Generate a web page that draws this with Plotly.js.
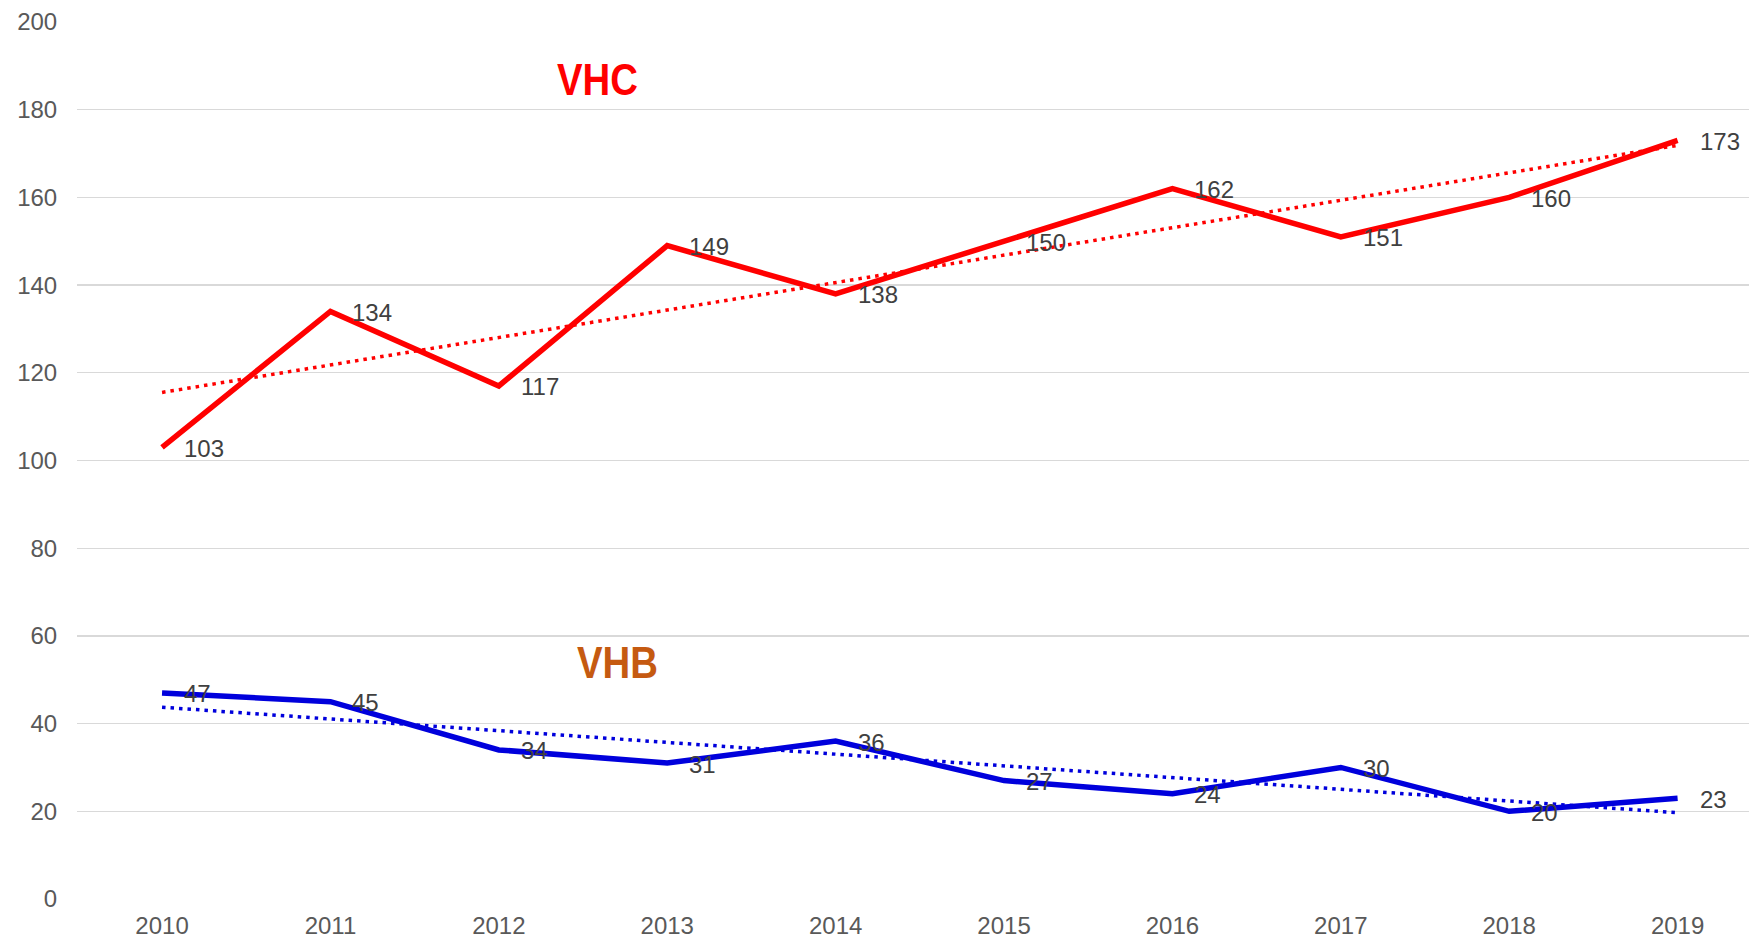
<!DOCTYPE html>
<html>
<head>
<meta charset="utf-8">
<script src="https://cdn.plot.ly/plotly-3.0.1.min.js"></script>
<style>html,body{margin:0;padding:0;background:#fff;}#chart{width:1749px;height:938px;}</style>
</head>
<body>
<div id="chart"></div>
<script>
const years = ['2010','2011','2012','2013','2014','2015','2016','2017','2018','2019'];
const vhc = [103, 134, 117, 149, 138, 150, 162, 151, 160, 173];
const vhb = [47, 45, 34, 31, 36, 27, 24, 30, 20, 23];
const yTicks = [0, 20, 40, 60, 80, 100, 120, 140, 160, 180, 200];

const RED = '#FF0000';
const BLUE = '#0000DC';
const xIdx = years.map((_, i) => i);

// Linear (least-squares) trend line, as the original chart's trendline
function trend(vals) {
  const n = vals.length;
  const mx = xIdx.reduce((a, b) => a + b, 0) / n;
  const my = vals.reduce((a, b) => a + b, 0) / n;
  let sxy = 0, sxx = 0;
  for (let i = 0; i < n; i++) { sxy += (xIdx[i] - mx) * (vals[i] - my); sxx += (xIdx[i] - mx) ** 2; }
  const b = sxy / sxx, a = my - b * mx;
  return xIdx.map(x => a + b * x);
}

const traces = [
  {x: xIdx, y: trend(vhc), type: 'scatter', mode: 'lines', line: {color: RED, width: 3.5, dash: '3.5px,5px'}, hoverinfo: 'skip'},
  {x: xIdx, y: trend(vhb), type: 'scatter', mode: 'lines', line: {color: BLUE, width: 3.5, dash: '3.5px,5px'}, hoverinfo: 'skip'},
  {x: xIdx, y: vhc, type: 'scatter', mode: 'lines', name: 'VHC', line: {color: RED, width: 5.5}},
  {x: xIdx, y: vhb, type: 'scatter', mode: 'lines', name: 'VHB', line: {color: BLUE, width: 5.5}}
];

const labelFont = {family: 'Liberation Sans, Arial, sans-serif', size: 24, color: '#404040'};
const annotations = [];
[vhc, vhb].forEach(series => {
  series.forEach((v, i) => {
    annotations.push({x: xIdx[i], y: v, xref: 'x', yref: 'y', text: String(v), showarrow: false,
      xanchor: 'left', yanchor: 'middle', xshift: 20, yshift: -1, font: labelFont});
  });
});
annotations.push({x: 2.585, y: 186.8, xref: 'x', yref: 'y', text: '<b>VHC</b>', showarrow: false,
  xanchor: 'center', yanchor: 'middle',
  font: {family: 'Liberation Sans, Arial, sans-serif', size: 45, color: RED}});
annotations.push({x: 2.704, y: 53.9, xref: 'x', yref: 'y', text: '<b>VHB</b>', showarrow: false,
  xanchor: 'center', yanchor: 'middle',
  font: {family: 'Liberation Sans, Arial, sans-serif', size: 44, color: '#C55A11'}});

const layout = {
  width: 1749, height: 938,
  margin: {l: 77, r: 0, t: 22, b: 39, pad: 0},
  paper_bgcolor: '#FFFFFF', plot_bgcolor: '#FFFFFF',
  showlegend: false,
  hovermode: false,
  xaxis: {
    range: [-0.505, 9.424],
    tickvals: xIdx, ticktext: years,
    showgrid: false, zeroline: false, showline: false,
    ticks: 'outside', ticklen: 5, tickcolor: 'rgba(0,0,0,0)',
    tickfont: {family: 'Liberation Sans, Arial, sans-serif', size: 24, color: '#595959'},
    fixedrange: true
  },
  yaxis: {
    range: [0, 200], tickvals: yTicks, ticktext: yTicks.map(String),
    showgrid: true, gridcolor: '#D9D9D9', gridwidth: 1.3,
    zeroline: false, showline: false,
    ticks: 'outside', ticklen: 14, tickcolor: 'rgba(0,0,0,0)',
    tickfont: {family: 'Liberation Sans, Arial, sans-serif', size: 24, color: '#595959'},
    fixedrange: true
  },
  annotations: annotations
};

Plotly.newPlot('chart', traces, layout, {displayModeBar: false, staticPlot: true}).then(gd => {
  // Condense the two big series titles horizontally, like the narrow font of the original
  const texts = gd.querySelectorAll('.annotation-text');
  texts.forEach(t => {
    const s = t.textContent;
    if (s === 'VHC' || s === 'VHB') {
      const bb = t.getBBox();
      const cx = bb.x + bb.width / 2;
      const sx = 81 / bb.width;
      t.setAttribute('transform', 'translate(' + cx + ',0) scale(' + sx + ',1) translate(' + (-cx) + ',0)');
    }
  });
});
</script>
</body>
</html>
